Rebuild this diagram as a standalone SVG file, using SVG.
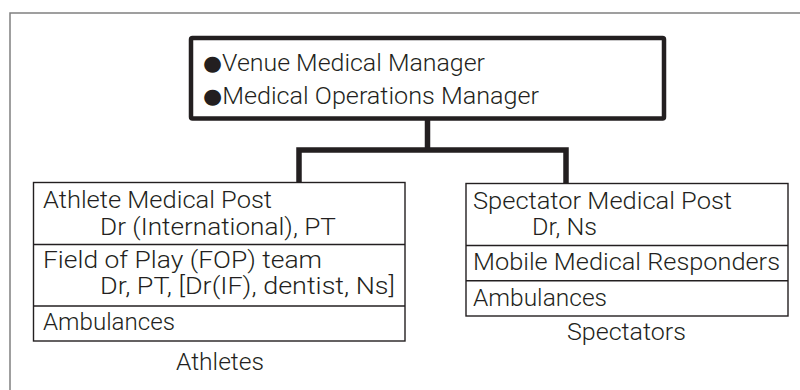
<svg xmlns="http://www.w3.org/2000/svg" width="800" height="390" viewBox="0 0 800 390">
<style>
.t{font-family:Roboto,"Liberation Sans",Arial,sans-serif;font-weight:300;font-size:23px;fill:#231f20}
.tt{font-family:Roboto,"Liberation Sans",Arial,sans-serif;font-weight:300;font-size:24px;fill:#231f20}
.b{font-family:"DejaVu Sans",sans-serif;font-weight:400;font-size:21px}
.box{fill:#fff;stroke:#231f20;stroke-width:1.4}
.div{stroke:#231f20;stroke-width:1.4;fill:none}
.conn{fill:none;stroke:#231f20;stroke-width:5.5;stroke-linejoin:miter}
</style>
<rect width="800" height="390" fill="#fff"/>
<path d="M10,390 V13 H800" fill="none" stroke="#808080" stroke-width="1.5"/>
<g id="connectors">
<path class="conn" d="M427.5,118 V150"/>
<path class="conn" d="M299,183 V150 H566 V184"/>
</g>
<g id="managers">
<rect x="191" y="38" width="473" height="80.5" rx="1.5" fill="#fff" stroke="#231f20" stroke-width="4.5"/>
<text class="tt" x="203" y="71" textLength="282" lengthAdjust="spacingAndGlyphs"><tspan class="b" dy="-1">●</tspan><tspan dy="1">Venue Medical Manager</tspan></text>
<text class="tt" x="203" y="104" textLength="336" lengthAdjust="spacingAndGlyphs"><tspan class="b" dy="-1">●</tspan><tspan dy="1">Medical Operations Manager</tspan></text>
</g>
<g id="athletes">
<rect class="box" x="33.5" y="182.5" width="371.5" height="158.5"/>
<line class="div" x1="33.5" y1="244.5" x2="405" y2="244.5"/>
<line class="div" x1="33.5" y1="306" x2="405" y2="306"/>
<text class="t" x="43" y="208" textLength="229" lengthAdjust="spacingAndGlyphs">Athlete Medical Post</text>
<text class="t" x="100" y="235" textLength="236" lengthAdjust="spacingAndGlyphs">Dr (International), PT</text>
<text class="t" x="43" y="268" textLength="279" lengthAdjust="spacingAndGlyphs">Field of Play (FOP) team</text>
<text class="t" x="100" y="294" textLength="295" lengthAdjust="spacingAndGlyphs">Dr, PT, [Dr(IF), dentist, Ns]</text>
<text class="t" x="43" y="330" textLength="132" lengthAdjust="spacingAndGlyphs">Ambulances</text>
<text class="t" x="176" y="370" textLength="88" lengthAdjust="spacingAndGlyphs">Athletes</text>
</g>
<g id="spectators">
<rect class="box" x="466" y="183.5" width="322" height="132.5"/>
<line class="div" x1="466" y1="245.5" x2="788" y2="245.5"/>
<line class="div" x1="466" y1="280.7" x2="788" y2="280.7"/>
<text class="t" x="473" y="209" textLength="259" lengthAdjust="spacingAndGlyphs">Spectator Medical Post</text>
<text class="t" x="532" y="235" textLength="65" lengthAdjust="spacingAndGlyphs">Dr, Ns</text>
<text class="t" x="473" y="270" textLength="307" lengthAdjust="spacingAndGlyphs">Mobile Medical Responders</text>
<text class="t" x="473" y="306" textLength="134" lengthAdjust="spacingAndGlyphs">Ambulances</text>
<text class="t" x="567" y="340" textLength="119" lengthAdjust="spacingAndGlyphs">Spectators</text>
</g>
</svg>
